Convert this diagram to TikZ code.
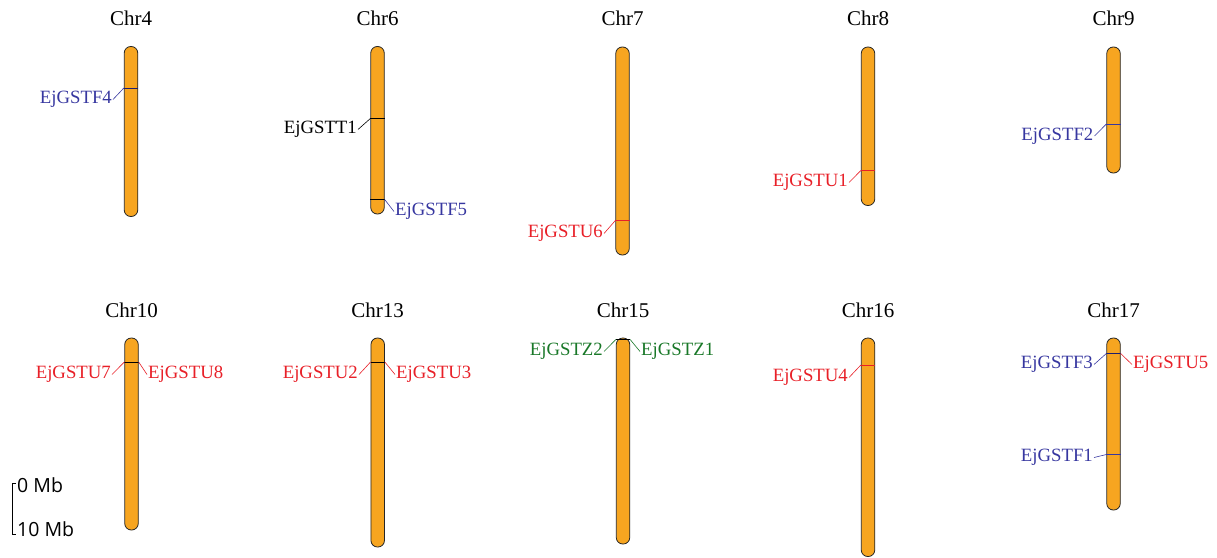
\documentclass[tikz,border=0pt]{standalone}
\usepackage{fontspec}
\setmainfont{Liberation Serif}
\newfontfamily\scalebarfont{Open Sans}
\definecolor{chrorange}{RGB}{247,165,32}
\definecolor{gblue}{RGB}{55,55,160}
\definecolor{gred}{RGB}{232,32,40}
\definecolor{ggreen}{RGB}{25,120,40}
\definecolor{gnavy}{RGB}{30,30,110}
\tikzset{
  chrom/.style={draw=black!85, line width=0.8pt, fill=chrorange, rounded corners=6.5pt, minimum width=13.5pt, inner sep=0pt},
  gene/.style={font=\fontsize{18.75}{20}\selectfont, inner sep=1pt, yshift=-1.5pt},
  ctitle/.style={font=\fontsize{21}{24}\selectfont, anchor=base, inner sep=0pt},
  mark line/.style={line width=0.9pt},
  leader/.style={line width=0.6pt},
  scaletext/.style={font=\scalebarfont\fontsize{19.5}{22}\selectfont, anchor=base west, inner sep=0pt}
}
\begin{document}
\begin{tikzpicture}[x=1pt,y=-1pt]
\useasboundingbox (0,0) rectangle (1217,557);
% ---------- row 1 ----------
\node[chrom, minimum height=170pt]   (c4)  at (131,131.5)  {};
\node[chrom, minimum height=167.5pt] (c6)  at (377.5,130.25) {};
\node[chrom, minimum height=208pt]   (c7)  at (622.5,151)  {};
\node[chrom, minimum height=158.5pt] (c8)  at (868,126.25) {};
\node[chrom, minimum height=126pt]   (c9)  at (1113.5,110) {};
\node[ctitle] (t4) at (131,25.5) {Chr4};
\node[ctitle] (t6) at (377.5,25.5) {Chr6};
\node[ctitle] (t7) at (622.5,25.5) {Chr7};
\node[ctitle] (t8) at (868,25.5) {Chr8};
\node[ctitle] (t9) at (1113.5,25.5) {Chr9};
% ---------- row 2 ----------
\node[chrom, minimum height=192pt]   (c10) at (131.5,434)  {};
\node[chrom, minimum height=209pt]   (c13) at (377.7,442.5) {};
\node[chrom, minimum height=206pt]   (c15) at (623,441)    {};
\node[chrom, minimum height=218.5pt] (c16) at (868,447.25) {};
\node[chrom, minimum height=172pt]   (c17) at (1113.5,424) {};
\node[ctitle] (t10) at (131.5,317.5) {Chr10};
\node[ctitle] (t13) at (377.7,317.5) {Chr13};
\node[ctitle] (t15) at (623,317.5) {Chr15};
\node[ctitle] (t16) at (868,317.5) {Chr16};
\node[ctitle] (t17) at (1113.5,317.5) {Chr17};
% ---------- markers ----------
\coordinate (m4a) at (0,88);
\coordinate (m6a) at (0,118.5);
\coordinate (m6b) at (0,199.5);
\coordinate (m7a) at (0,220.5);
\coordinate (m8a) at (0,170.5);
\coordinate (m9a) at (0,124);
\coordinate (m10a) at (0,362);
\coordinate (m13a) at (0,362);
\coordinate (m15a) at (0,339.5);
\coordinate (m16a) at (0,365);
\coordinate (m17a) at (0,353.5);
\coordinate (m17b) at (0,454.5);
\draw[mark line, gnavy] (c4.west |- m4a) -- (c4.east |- m4a);
\draw[mark line, black] (c6.west |- m6a) -- (c6.east |- m6a);
\draw[mark line, black] (c6.west |- m6b) -- (c6.east |- m6b);
\draw[mark line, gred] (c7.west |- m7a) -- (c7.east |- m7a);
\draw[mark line, gred] (c8.west |- m8a) -- (c8.east |- m8a);
\draw[mark line, gblue] (c9.west |- m9a) -- (c9.east |- m9a);
\draw[mark line, black] (c10.west |- m10a) -- (c10.east |- m10a);
\draw[mark line, black] (c13.west |- m13a) -- (c13.east |- m13a);
\draw[mark line, black, line width=1.6pt] (c15.west |- m15a) -- (c15.east |- m15a);
\draw[mark line, gred] (c16.west |- m16a) -- (c16.east |- m16a);
\draw[mark line, gnavy] (c17.west |- m17a) -- (c17.east |- m17a);
\draw[mark line, gblue] (c17.west |- m17b) -- (c17.east |- m17b);
% ---------- gene labels ----------
\node[gene, gblue, anchor=east]  (gF4) at (113,98)  {EjGSTF4};
\node[gene, black, anchor=east]  (gT1) at (358,128) {EjGSTT1};
\node[gene, gblue, anchor=west]  (gF5) at (394,210) {EjGSTF5};
\node[gene, gred, anchor=east]   (gU6) at (604,232) {EjGSTU6};
\node[gene, gred, anchor=east]   (gU1) at (849,181) {EjGSTU1};
\node[gene, gblue, anchor=east]  (gF2) at (1094.5,134.5) {EjGSTF2};
\node[gene, gred, anchor=east]   (gU7) at (112,373) {EjGSTU7};
\node[gene, gred, anchor=west]   (gU8) at (147,373) {EjGSTU8};
\node[gene, gred, anchor=east]   (gU2) at (359,373) {EjGSTU2};
\node[gene, gred, anchor=west]   (gU3) at (395,373) {EjGSTU3};
\node[gene, ggreen, anchor=east] (gZ2) at (604,350) {EjGSTZ2};
\node[gene, ggreen, anchor=west] (gZ1) at (640,350) {EjGSTZ1};
\node[gene, gred, anchor=east]   (gU4) at (849,376) {EjGSTU4};
\node[gene, gblue, anchor=east]  (gF3) at (1094,363) {EjGSTF3};
\node[gene, gred, anchor=west]   (gU5) at (1132,363) {EjGSTU5};
\node[gene, gblue, anchor=east]  (gF1) at (1094,456) {EjGSTF1};
% ---------- leader lines ----------
\draw[leader, gblue]  (gF4.east) -- (c4.west |- m4a);
\draw[leader, black]  (gT1.east) -- (c6.west |- m6a);
\draw[leader, gblue]  (c6.east |- m6b) -- (gF5.west);
\draw[leader, gred]   (gU6.east) -- (c7.west |- m7a);
\draw[leader, gred]   (gU1.east) -- (c8.west |- m8a);
\draw[leader, gblue]  (gF2.east) -- (c9.west |- m9a);
\draw[leader, gred]   (gU7.east) -- (c10.west |- m10a);
\draw[leader, gred]   (c10.east |- m10a) -- (gU8.west);
\draw[leader, gred]   (gU2.east) -- (c13.west |- m13a);
\draw[leader, gred]   (c13.east |- m13a) -- (gU3.west);
\draw[leader, ggreen] (gZ2.east) -- (c15.west |- m15a);
\draw[leader, ggreen] (c15.east |- m15a) -- (gZ1.west);
\draw[leader, gred]   (gU4.east) -- (c16.west |- m16a);
\draw[leader, gblue]  (gF3.east) -- (c17.west |- m17a);
\draw[leader, gred]   (c17.east |- m17a) -- (gU5.west);
\draw[leader, gblue]  (gF1.east) -- (c17.west |- m17b);
% ---------- scale bar ----------
\draw[line width=0.8pt] (15.5,483.5) -- (12,483.5) -- (12,534) -- (15.5,534);
\node[scaletext] (s0) at (17,492) {0 Mb};
\node[scaletext] (s10) at (17,536) {10 Mb};
\end{tikzpicture}
\end{document}
